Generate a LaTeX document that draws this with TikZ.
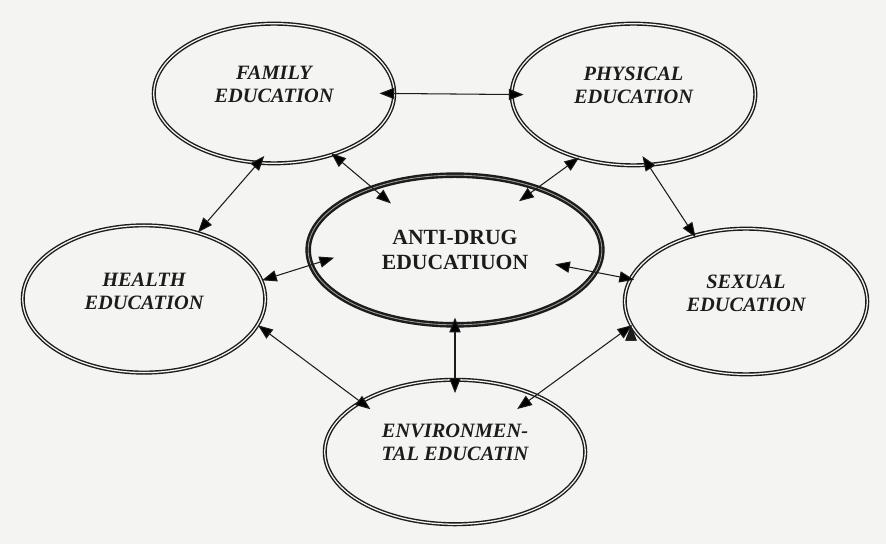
\documentclass[tikz,border=0pt]{standalone}
\usepackage{fontspec}
\setmainfont{Liberation Serif}
\usetikzlibrary{shapes.geometric, arrows.meta}

\definecolor{paper}{RGB}{244,244,242}
\definecolor{ink}{RGB}{28,28,28}

\tikzset{
  topic/.style = {ellipse, draw=ink, double=paper, line width=1pt, double distance=0.9pt},
  topictext/.style = {align=center, text=ink, inner sep=0pt,
    font=\fontsize{14.5}{16.5}\selectfont\bfseries\itshape},
  core/.style = {ellipse, draw=ink, double=paper!60!ink, line width=1.7pt, double distance=0.6pt,
    align=center, text=ink, font=\fontsize{15.4}{17.8}\selectfont\bfseries},
  link/.style = {{Triangle[length=10.5pt,width=8pt]}-{Triangle[length=10.5pt,width=8pt]},
    draw=ink, line width=0.75pt}
}

\begin{document}
\begin{tikzpicture}[x=0.025cm, y=-0.025cm]
    \fill [paper] (0,0) rectangle (886,544);
    \useasboundingbox (0,0) rectangle (886,544);

    % the six fields
    \node (fam) [topic, minimum width=6.01cm, minimum height=3.49cm] at (274,93.5) {};
    \node (phy) [topic, minimum width=6.09cm, minimum height=3.54cm] at (633.5,94.5) {};
    \node (hea) [topic, minimum width=6.06cm, minimum height=3.68cm] at (144,299) {};
    \node (sex) [topic, minimum width=6.06cm, minimum height=3.64cm] at (746,301.5) {};
    \node (env) [topic, minimum width=6.51cm, minimum height=3.61cm] at (455,452) {};
    \node (drug) [core, minimum width=7.34cm, minimum height=3.74cm] at (455,250) {ANTI-DRUG\\EDUCATIUON};

    \node (fam-t) [topictext] at (274,84) {FAMILY\\EDUCATION};
    \node (phy-t) [topictext] at (633.5,85) {PHYSICAL\\EDUCATION};
    \node (hea-t) [topictext] at (144,291.5) {HEALTH\\EDUCATION};
    \node (sex-t) [topictext] at (746,293.5) {SEXUAL\\EDUCATION};
    \node (env-t) [topictext] at (455,442.5) {ENVIRONMEN-\\TAL EDUCATIN};

    \path [link]
      (fam.0) edge [shorten <=-11pt, shorten >=-9pt] (phy.180)
      (fam.257) edge [shorten <=-7pt] (hea.51)
      (fam.314) edge [shorten <=-2pt, shorten >=-18pt] (drug.143.6)
      (phy.229.4) edge [shorten <=-1pt, shorten >=-17pt] (drug.37.6)
      (phy.282.6) edge [shorten <=-8pt, shorten >=-2pt] (sex.128.3)
      (hea.9.8) edge [shorten >=-18pt] (drug.186)
      (drug.351.6) edge [shorten <=-30pt, shorten >=-3pt] (sex.169.2)
      (hea.347.5) edge [shorten >=-9pt] (env.152.6)
      (drug.270) edge [shorten <=-6pt, shorten >=-10pt] (env.90)
      (sex.192.7) edge [shorten <=-1pt, shorten >=-17pt] (env.35.4);
\end{tikzpicture}
\end{document}
